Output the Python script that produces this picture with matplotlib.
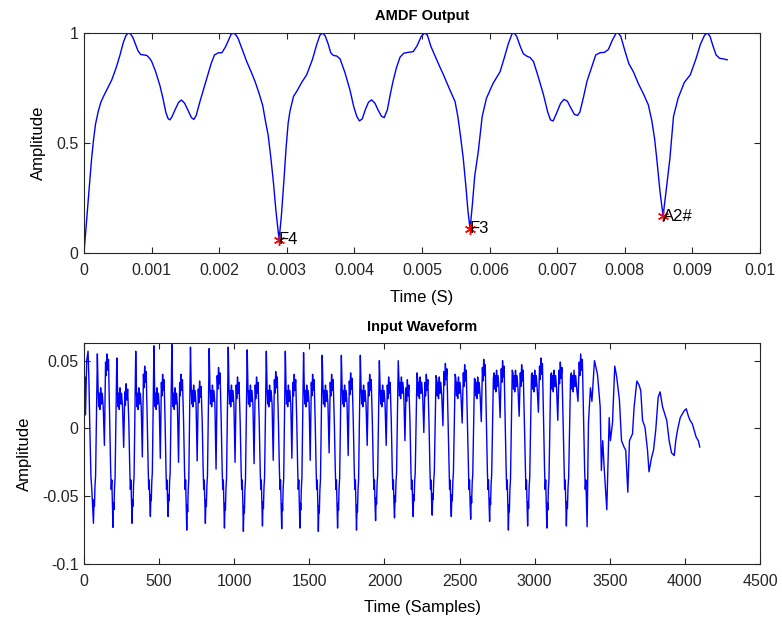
import matplotlib.pyplot as plt
import numpy as np

plt.rcParams["font.family"] = ["Liberation Sans", "DejaVu Sans"]

# AMDF curve (time in ms)
AMDF_TIME_MS = [
    0.000, 0.030, 0.070, 0.110, 0.138, 0.170, 0.212, 0.250, 0.286, 0.343,
    0.410, 0.474, 0.533, 0.580, 0.620, 0.655, 0.690, 0.725, 0.760, 0.800,
    0.840, 0.880, 0.928, 0.970, 0.999, 1.059, 1.124, 1.170, 1.210, 1.245,
    1.270, 1.300, 1.346, 1.400, 1.443, 1.490, 1.544, 1.590, 1.625, 1.660,
    1.715, 1.816, 1.880, 1.930, 1.988, 2.040, 2.090, 2.135, 2.175, 2.210,
    2.245, 2.280, 2.340, 2.407, 2.470, 2.530, 2.590, 2.644, 2.690, 2.724,
    2.765, 2.801, 2.840, 2.886, 2.920, 2.956, 2.990, 3.020, 3.047, 3.100,
    3.148, 3.220, 3.294, 3.380, 3.440, 3.490, 3.532, 3.570, 3.612, 3.650,
    3.688, 3.740, 3.788, 3.860, 3.935, 3.990, 4.036, 4.075, 4.117, 4.160,
    4.208, 4.255, 4.305, 4.350, 4.399, 4.440, 4.487, 4.530, 4.571, 4.620,
    4.675, 4.730, 4.798, 4.870, 4.924, 4.990, 5.040, 5.080, 5.130, 5.186,
    5.250, 5.317, 5.400, 5.489, 5.530, 5.570, 5.610, 5.650, 5.680, 5.711,
    5.745, 5.780, 5.832, 5.890, 5.953, 6.050, 6.155, 6.220, 6.276, 6.330,
    6.360, 6.400, 6.458, 6.500, 6.548, 6.600, 6.649, 6.720, 6.796, 6.860,
    6.900, 6.940, 6.990, 7.050, 7.100, 7.150, 7.200, 7.254, 7.300, 7.335,
    7.390, 7.440, 7.510, 7.570, 7.633, 7.700, 7.757, 7.820, 7.870, 7.900,
    7.940, 8.000, 8.060, 8.126, 8.200, 8.280, 8.348, 8.400, 8.440, 8.472,
    8.520, 8.566, 8.610, 8.667, 8.720, 8.788, 8.880, 8.969, 9.050, 9.120,
    9.180, 9.220, 9.260, 9.300, 9.350, 9.400, 9.460, 9.514,
]
AMDF_VALUE = [
    0.000, 0.115, 0.270, 0.420, 0.506, 0.585, 0.645, 0.685, 0.710, 0.745,
    0.786, 0.840, 0.900, 0.955, 0.988, 1.000, 0.995, 0.978, 0.950, 0.918,
    0.902, 0.900, 0.898, 0.885, 0.872, 0.825, 0.760, 0.700, 0.640, 0.610,
    0.605, 0.618, 0.650, 0.685, 0.695, 0.680, 0.645, 0.615, 0.607, 0.625,
    0.688, 0.794, 0.860, 0.900, 0.910, 0.910, 0.935, 0.965, 0.993, 1.000,
    0.992, 0.975, 0.925, 0.870, 0.825, 0.780, 0.725, 0.670, 0.590, 0.536,
    0.430, 0.324, 0.190, 0.060, 0.170, 0.324, 0.480, 0.590, 0.645, 0.712,
    0.735, 0.775, 0.810, 0.880, 0.945, 0.990, 1.000, 0.985, 0.950, 0.910,
    0.898, 0.895, 0.882, 0.820, 0.740, 0.665, 0.620, 0.600, 0.610, 0.650,
    0.685, 0.696, 0.680, 0.650, 0.622, 0.615, 0.650, 0.720, 0.780, 0.840,
    0.890, 0.908, 0.912, 0.915, 0.940, 0.985, 1.000, 0.990, 0.940, 0.900,
    0.855, 0.810, 0.750, 0.688, 0.620, 0.530, 0.430, 0.300, 0.190, 0.110,
    0.220, 0.350, 0.460, 0.620, 0.703, 0.770, 0.824, 0.890, 0.950, 0.995,
    1.000, 0.985, 0.935, 0.905, 0.895, 0.888, 0.870, 0.800, 0.720, 0.640,
    0.605, 0.600, 0.635, 0.680, 0.698, 0.690, 0.660, 0.630, 0.625, 0.640,
    0.710, 0.780, 0.845, 0.900, 0.910, 0.912, 0.925, 0.970, 0.998, 1.000,
    0.985, 0.920, 0.860, 0.824, 0.770, 0.720, 0.673, 0.600, 0.520, 0.430,
    0.280, 0.168, 0.280, 0.430, 0.620, 0.703, 0.775, 0.810, 0.880, 0.950,
    0.990, 1.000, 0.985, 0.945, 0.900, 0.885, 0.882, 0.878,
]
PITCH_TIME_MS = [2.886, 5.711, 8.566]
PITCH_VALUE = [0.06, 0.11, 0.168]
PITCH_NAMES = ["F4", "F3", "A2#"]

# input waveform: opening samples, one entry per pitch period, decaying tail
HEAD_SAMPLES = [0, 6, 10, 18, 27, 33, 38, 46, 52]
HEAD_AMPS = [0.006, 0.038, 0.01, 0.05, 0.057, 0.035, 0.005, -0.035, -0.045]

TROUGH_SAMPLES = [63, 193, 320, 442, 560, 684, 808, 935, 1061, 1188, 1316,
                  1437, 1560, 1688, 1814, 1941, 2067, 2191, 2318, 2445, 2574,
                  2700, 2825, 2953, 3081, 3211, 3349]
TROUGH_AMPS = [-0.070, -0.073, -0.070, -0.065, -0.065, -0.075, -0.070, -0.0735,
               -0.076, -0.072, -0.074, -0.0735, -0.076, -0.0735, -0.075, -0.068,
               -0.066, -0.065, -0.064, -0.065, -0.067, -0.0685, -0.075, -0.072,
               -0.0735, -0.072, -0.0725]
EARLY_PEAKS = [0.055, 0.052, 0.057, 0.061, 0.062, 0.060, 0.059, 0.060, 0.058,
               0.057, 0.057, 0.056, 0.054, 0.054, 0.054, 0.050, 0.050, 0.041,
               0.039, 0.040, 0.037, 0.037, 0.043, 0.040, 0.040, 0.037]
MID_LEVELS = [0.020, 0.020, 0.020, 0.020, 0.020, 0.022, 0.022, 0.022, 0.022,
              0.022, 0.022, 0.022, 0.022, 0.022, 0.022, 0.022, 0.028, 0.028,
              0.028, 0.028, 0.028, 0.033, 0.033, 0.033, 0.033, 0.033]
DIP_AMPS = [-0.0125, -0.014, -0.021, -0.022, -0.025, -0.024, -0.030, -0.025,
            -0.026, -0.0235, -0.022, -0.0235, -0.018, -0.020, -0.0125, -0.0125,
            -0.009, -0.003, 0.002, 0.004, 0.005, 0.008, 0.009, 0.012, 0.006,
            0.020]
LATE_PEAKS = [0.055, 0.033, 0.046, 0.040, 0.040, 0.035, 0.045, 0.038, 0.038,
              0.042, 0.040, 0.040, 0.040, 0.041, 0.040, 0.038, 0.036, 0.040,
              0.048, 0.047, 0.051, 0.050, 0.047, 0.052, 0.049, 0.055]

TAIL_SAMPLES = [3358, 3371, 3381, 3398, 3418, 3436, 3444, 3453, 3462, 3480,
                3496, 3504, 3518, 3533, 3546, 3564, 3578, 3596, 3606, 3620,
                3631, 3651, 3662, 3680, 3695, 3706, 3718, 3734, 3751, 3761,
                3777, 3791, 3806, 3822, 3835, 3851, 3879, 3895, 3911, 3929,
                3939, 3951, 3969, 3984, 3995, 4009, 4022, 4034, 4049, 4062,
                4075, 4089, 4099]
TAIL_AMPS = [0.004, 0.030, 0.020, 0.050, 0.040, 0.016, -0.031, -0.009, -0.028,
             -0.060, 0.008, -0.009, 0.004, 0.046, 0.038, 0.021, -0.009, -0.014,
             -0.016, -0.047, -0.009, -0.004, 0.016, 0.035, 0.032, 0.028, 0.006,
             0.001, -0.016, -0.032, -0.022, -0.016, -0.001, 0.023, 0.027, 0.016,
             0.006, -0.009, -0.018, -0.020, -0.009, -0.001, 0.008, 0.011, 0.013,
             0.0145, 0.0095, 0.006, 0.0035, -0.0015, -0.0064, -0.009, -0.0137]

# where the features of one pitch period sit (fraction of the period)
CYCLE_PHASES = [0.00, 0.03, 0.05, 0.08, 0.11, 0.20, 0.24, 0.27, 0.30, 0.33,
                0.37, 0.41, 0.45, 0.50, 0.56, 0.62, 0.65, 0.69, 0.73, 0.77,
                0.83, 0.88, 0.91, 0.94, 0.97]


def build_waveform():
    xs = list(HEAD_SAMPLES)
    ys = list(HEAD_AMPS)
    for k in range(len(EARLY_PEAKS)):
        t0, t1 = TROUGH_SAMPLES[k], TROUGH_SAMPLES[k + 1]
        tr = TROUGH_AMPS[k]
        ep, mid, dip, lp = EARLY_PEAKS[k], MID_LEVELS[k], DIP_AMPS[k], LATE_PEAKS[k]
        vals = [tr, tr * 0.75, tr * 0.82, tr * 0.6, tr * 0.5, ep,
                mid + 0.008, mid - 0.004, mid + 0.006, mid - 0.006,
                mid + 0.01, mid - 0.002, mid + 0.006, mid - 0.004, dip,
                lp - 0.006, lp - 0.016, lp, lp - 0.012, lp - 0.004,
                0.005, -0.03, -0.045, -0.038, -0.055]
        for ph, v in zip(CYCLE_PHASES, vals):
            xs.append(t0 + ph * (t1 - t0))
            ys.append(v)
    xs.append(TROUGH_SAMPLES[-1])
    ys.append(TROUGH_AMPS[-1])
    xs += TAIL_SAMPLES
    ys += TAIL_AMPS
    return np.array(xs), np.array(ys)


def style_axes(ax):
    ax.tick_params(direction="in", top=True, right=True, length=4,
                   labelsize=11.5, colors="#262626")
    ax.tick_params(axis="x", pad=7)
    ax.tick_params(axis="y", pad=4)
    for s in ax.spines.values():
        s.set_color("#262626")
        s.set_linewidth(0.8)


fig = plt.figure(figsize=(7.82, 6.24), dpi=100)
ax1 = fig.add_axes([0.1074, 0.5946, 0.8645, 0.3526])
ax2 = fig.add_axes([0.1074, 0.0962, 0.8645, 0.354])

t_sec = np.array(AMDF_TIME_MS) * 1e-3
ax1.plot(t_sec, AMDF_VALUE, color="blue", linewidth=1.0,
         solid_joinstyle="round")
ax1.plot(np.array(PITCH_TIME_MS) * 1e-3, PITCH_VALUE, linestyle="none",
         marker=(6, 2, 0), color="red", markersize=8, markeredgewidth=1.0)
for t, v, name in zip(PITCH_TIME_MS, PITCH_VALUE, PITCH_NAMES):
    ax1.text(t * 1e-3, v, name, ha="left", va="center", fontsize=12)
ax1.set_xlim(0, 0.01)
ax1.set_ylim(0, 1)
ax1.set_xticks(np.arange(0, 0.0101, 0.001),
               ["0"] + [f"{v:g}" for v in np.arange(1, 11) / 1000])
ax1.set_yticks([0, 0.5, 1], ["0", "0.5", "1"])
ax1.set_xlabel("Time (S)", fontsize=12, labelpad=9)
ax1.set_ylabel("Amplitude", fontsize=12, labelpad=7)
ax1.set_title("AMDF Output", fontsize=10.5, fontweight="bold", pad=9)
style_axes(ax1)

wx, wy = build_waveform()
ax2.plot(wx, wy, color="blue", linewidth=1.0)
ax2.set_xlim(0, 4500)
ax2.set_ylim(-0.1, 0.063)
ax2.set_xticks(range(0, 4501, 500))
ax2.set_yticks([-0.1, -0.05, 0, 0.05], ["-0.1", "-0.05", "0", "0.05"])
ax2.set_xlabel("Time (Samples)", fontsize=12, labelpad=8)
ax2.set_ylabel("Amplitude", fontsize=12, labelpad=7)
ax2.set_title("Input Waveform", fontsize=10.5, fontweight="bold", pad=9)
style_axes(ax2)

fig.savefig("out.png", dpi=100)
